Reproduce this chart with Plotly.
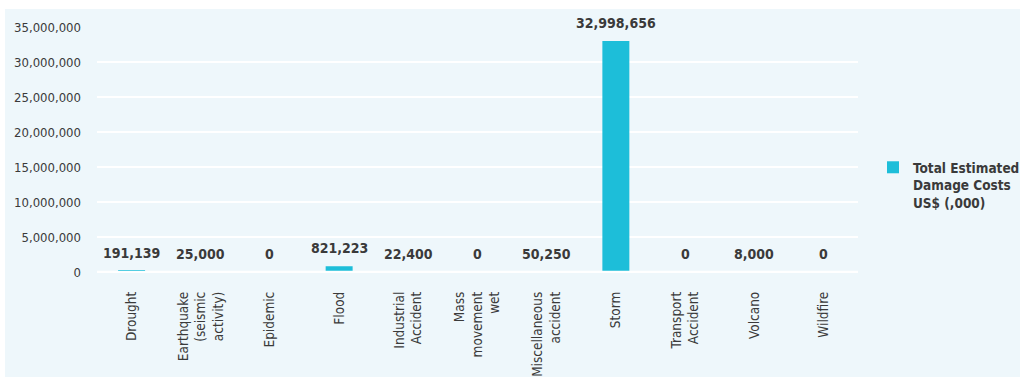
import plotly.graph_objects as go

# Disaster categories and total estimated damage costs (US$ thousands)
categories = [
    "Drought", "Earthquake (seismic activity)", "Epidemic", "Flood",
    "Industrial Accident", "Mass movement wet", "Miscellaneous accident",
    "Storm", "Transport Accident", "Volcano", "Wildfire",
]
tick_labels = [
    "Drought", "Earthquake<br>(seismic<br>activity)", "Epidemic", "Flood",
    "Industrial<br>Accident", "Mass<br>movement<br>wet", "Miscellaneous<br>accident",
    "Storm", "Transport<br>Accident", "Volcano", "Wildfire",
]
damage_costs = [191139, 25000, 0, 821223, 22400, 0, 50250, 32998656, 0, 8000, 0]
y_ticks = [0, 5000000, 10000000, 15000000, 20000000, 25000000, 30000000, 35000000]
series_name = "Total Estimated<br>Damage Costs<br>US$ (,000)"

BG = "#EEF7FB"
BAR = "#1DBED9"
TEXT = "#3A3A3A"

W, H = 1020, 377
ML, MR, MT, MB = 97, 162, 27, 105
pw, ph = W - ML - MR, H - MT - MB

fig = go.Figure()
fig.add_trace(go.Bar(
    x=categories, y=damage_costs, name=series_name, width=0.39,
    marker=dict(color=BAR, line=dict(width=0)), showlegend=True,
))

# value labels above each bar
for c, v in zip(categories, damage_costs):
    fig.add_annotation(
        x=c, y=v, text=f"{v:,}", showarrow=False, yanchor="bottom", yshift=8,
        font=dict(family="DejaVu Sans Condensed", size=14, color=TEXT, weight="bold"),
    )

# light panel behind the whole chart, leaving a thin white edge top-left
fig.add_shape(
    type="rect", xref="paper", yref="paper", layer="below",
    x0=(5 - ML) / pw, x1=(W + 5 - ML) / pw,
    y0=(MT + ph - H - 5) / ph, y1=(MT + ph - 9) / ph,
    fillcolor=BG, line=dict(width=0),
)
# white baseline drawn over the bars
fig.add_shape(
    type="line", xref="paper", yref="y", layer="above",
    x0=0, x1=1, y0=0, y1=0, line=dict(color="white", width=2.5),
)

fig.update_layout(
    width=W, height=H,
    margin=dict(l=ML, r=MR, t=MT, b=MB, pad=0, autoexpand=False),
    paper_bgcolor="white", plot_bgcolor="rgba(0,0,0,0)",
    font=dict(family="DejaVu Sans Condensed", color=TEXT),
    legend=dict(
        x=(873 - ML) / pw, xanchor="left", y=(MT + ph - 152) / ph, yanchor="top",
        valign="top", bgcolor="rgba(0,0,0,0)",
        font=dict(family="DejaVu Sans Condensed", size=13.5, color=TEXT, weight="bold"),
        itemwidth=30,
    ),
    xaxis=dict(
        tickmode="array", tickvals=categories, ticktext=tick_labels,
        tickangle=-90, showgrid=False, zeroline=False, showline=False,
        tickfont=dict(family="DejaVu Sans Condensed", size=13.5, color=TEXT),
        ticklabelstandoff=16, automargin=False,
    ),
    yaxis=dict(
        range=[0, 35000000], tickvals=y_ticks, tickformat=",",
        showgrid=True, gridcolor="white", gridwidth=2,
        zeroline=True, zerolinecolor="white", zerolinewidth=2, showline=False,
        tickfont=dict(family="DejaVu Sans Condensed", size=13, color=TEXT),
        ticklabelstandoff=15, automargin=False,
    ),
)

fig.write_html("out.html")
